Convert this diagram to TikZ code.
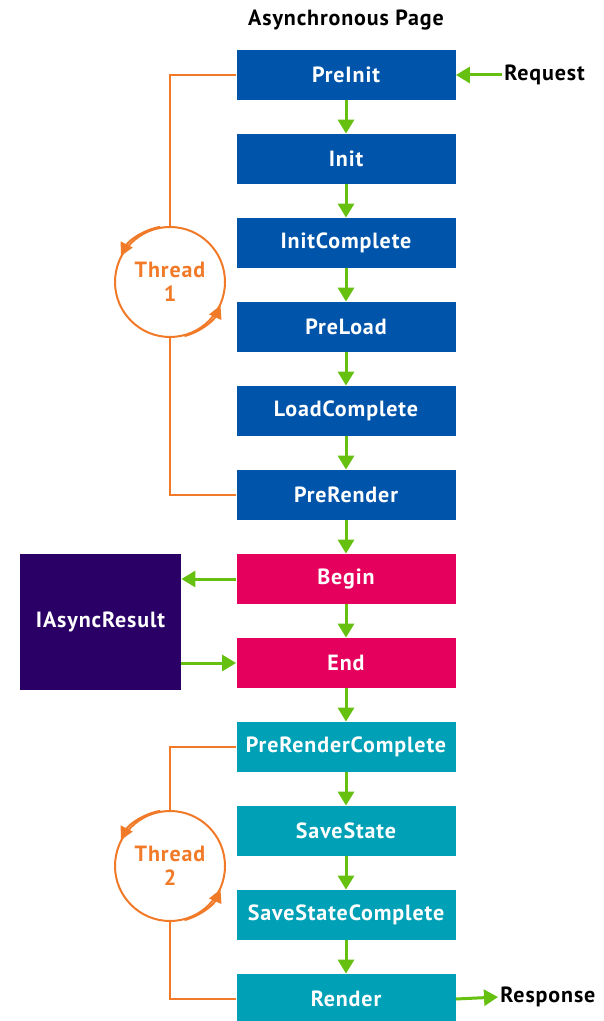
\documentclass[tikz,border=0pt]{standalone}
\usepackage{fontspec}
\setmainfont[LetterSpace=4]{PT Sans}
\usetikzlibrary{arrows.meta,positioning}
\definecolor{pgblue}{RGB}{0,85,170}
\definecolor{pgpink}{RGB}{228,0,92}
\definecolor{pgteal}{RGB}{0,160,182}
\definecolor{pgpurple}{RGB}{42,0,102}
\definecolor{pggreen}{RGB}{102,192,16}
\definecolor{pgorange}{RGB}{240,122,40}
\tikzset{
  stage/.style={minimum width=109.5pt, minimum height=25pt, inner sep=0pt,
    text=white, font=\fontsize{11}{13}\selectfont\bfseries},
  flow/.style={draw=pggreen, line width=1.5pt, -{Triangle[width=8pt,length=7pt]}},
  thread/.style={draw=pgorange, line width=1pt},
  threadarr/.style={thread, -{Triangle[width=6.5pt,length=6.5pt]}},
  loop/.style={circle, draw=pgorange, line width=1pt, minimum size=55pt, inner sep=0pt,
    text=pgorange, align=center, font=\fontsize{11}{12}\selectfont\bfseries},
  lbl/.style={inner sep=1pt, font=\fontsize{11}{13}\selectfont\bfseries}
}
\begin{document}
\begin{tikzpicture}[x=0.5pt, y=0.5pt]
\useasboundingbox (0,0) rectangle (604,-1021);
\node[lbl] (title) at (346,-20) {Asynchronous Page};
% the page stages
\foreach \n/\t/\c [count=\i] in {preinit/PreInit/pgblue, init/Init/pgblue,
    initc/InitComplete/pgblue, preload/PreLoad/pgblue, loadc/LoadComplete/pgblue,
    prerender/PreRender/pgblue, begin/Begin/pgpink, end/End/pgpink,
    prerc/PreRenderComplete/pgteal, save/SaveState/pgteal,
    savec/SaveStateComplete/pgteal, render/Render/pgteal}
  \node[stage, fill=\c] (\n) at (346,{-75-84*(\i-1)}) {\t};
\foreach \a/\b in {preinit/init, init/initc, initc/preload, preload/loadc,
    loadc/prerender, prerender/begin, begin/end, end/prerc, prerc/save,
    save/savec, savec/render}
  \draw[flow] (\a) -- (\b);

\node[lbl, anchor=west] (req) at (502,-75) {Request};
\draw[flow] (req.west) -- (preinit.east);
\node[lbl, anchor=west] (resp) at (498,-997) {Response};
\draw[flow] (render.east) -- (resp.west);

% async result
\node[minimum width=80.5pt, minimum height=68pt, fill=pgpurple, text=white,
  font=\fontsize{11}{13}\selectfont\bfseries] (iar) at (100.5,-622) {IAsyncResult};
\draw[flow] (begin.west) -- (begin.west -| iar.east);
\draw[flow] (iar.east |- end.west) -- (end.west);

% threads
\node[loop] (t1) at (170,-282) {Thread\\1};
\draw[thread] (preinit.west) -| (t1.north);
\draw[thread] (t1.south) |- (prerender.west);
\draw[threadarr] (t1.100) arc[start angle=100, end angle=153, radius=27.5pt];
\draw[threadarr] (t1.285) arc[start angle=285, end angle=336, radius=27.5pt];

\node[loop] (t2) at (170,-866) {Thread\\2};
\draw[thread] (prerc.west) -| (t2.north);
\draw[thread] (t2.south) |- (render.west);
\draw[threadarr] (t2.100) arc[start angle=100, end angle=153, radius=27.5pt];
\draw[threadarr] (t2.285) arc[start angle=285, end angle=336, radius=27.5pt];
\end{tikzpicture}
\end{document}
